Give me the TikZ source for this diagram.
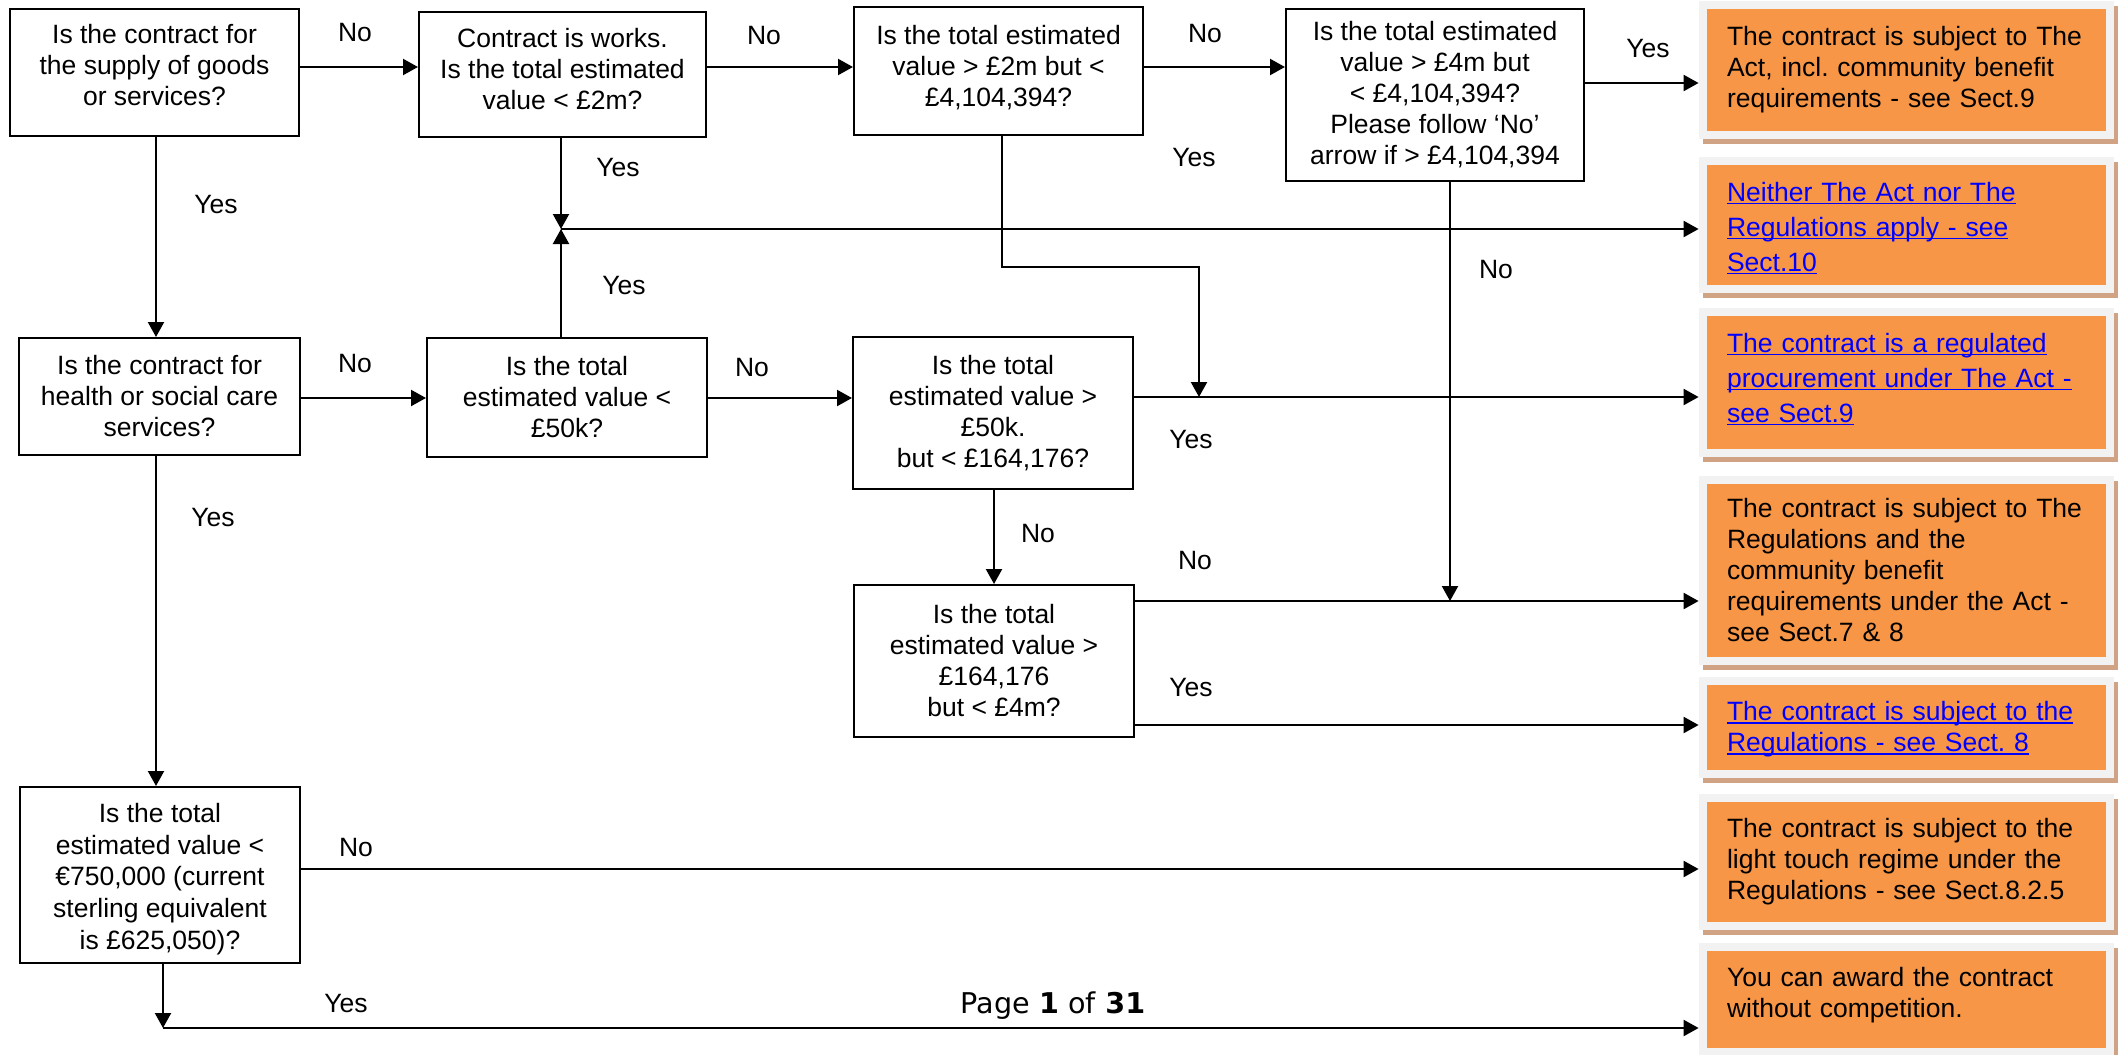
\documentclass[tikz,border=0pt]{standalone}
\usepackage{fontspec}
\setmainfont{Liberation Sans}
\newfontfamily\pagefont{DejaVu Sans}
\usetikzlibrary{arrows.meta,shadows}
\definecolor{boxorange}{HTML}{F79646}
\definecolor{framegray}{HTML}{F2F2F2}
\definecolor{shadowtan}{HTML}{CFA384}
\definecolor{linkblue}{HTML}{0000FF}
\newcommand\mainsz{\fontsize{13.25}{15.5}\selectfont\frenchspacing}
\newcommand\widesz{\fontsize{13.25}{15.8}\selectfont\frenchspacing}
\newcommand\linksz{\fontsize{13.25}{17.5}\selectfont\frenchspacing}
\newsavebox\lnkbox
\newcommand\lnk[1]{\sbox\lnkbox{#1}\leavevmode\rlap{\rule[-1.6pt]{\wd\lnkbox}{0.8pt}}\usebox\lnkbox}
\begin{document}
\begin{tikzpicture}[x=0.5pt,y=-0.5pt,
  qbox/.style={draw=black, line width=1pt, fill=white, inner sep=0pt},
  qt/.style={align=center, font=\mainsz, inner sep=0pt},
  frm/.style={fill=framegray, inner sep=0pt, minimum width=207.5pt,
    general shadow={fill=shadowtan, shadow xshift=2pt, shadow yshift=-2.5pt}},
  res/.style={fill=boxorange, inner sep=0pt, minimum width=199.5pt},
  rt/.style={inner sep=0pt, text width=179.5pt, align=left, font=\mainsz},
  link/.style={text=linkblue, font=\linksz},
  arr/.style={line width=1.1pt, -{Triangle[length=7.5pt,width=8pt]}},
  lbl/.style={font=\mainsz, inner sep=0pt, text height=9.5pt, text depth=0pt}]
\useasboundingbox (0,0) rectangle (2127,1055);
\fill[white] (0,0) rectangle (2127,1055);

% question boxes
\node[qbox, minimum width=144.5pt, minimum height=63.5pt] (A) at (154.5,72.5) {};
\node[qt] (At) at (154.5,65.5) {Is the contract for\\the supply of goods\\or services?};
\node[qbox, minimum width=143.5pt, minimum height=62.5pt] (B) at (562.5,74.5) {};
\node[qt] (Bt) at (562.5,69.5) {Contract is works.\\Is the total estimated\\value < £2m?};
\node[qbox, minimum width=144.5pt, minimum height=64pt] (C) at (998.5,71) {};
\node[qt] (Ct) at (998.5,68) {Is the total estimated\\value > £2m but <\\£4,104,394?};
\node[qbox, minimum width=149pt, minimum height=86pt] (D) at (1435,95) {};
\node[qt] (Dt) at (1435,95) {Is the total estimated\\value > £4m but\\< £4,104,394?\\Please follow ‘No’\\arrow if > £4,104,394};
\node[qbox, minimum width=140.5pt, minimum height=58.5pt] (E) at (159.5,396.5) {};
\node[qt] (Et) at (159.5,396.5) {Is the contract for\\health or social care\\services?};
\node[qbox, minimum width=140pt, minimum height=59.5pt] (F) at (567,397.5) {};
\node[qt] (Ft) at (567,397.5) {Is the total\\estimated value <\\£50k?};
\node[qbox, minimum width=140pt, minimum height=76pt] (G) at (993,413) {};
\node[qt] (Gt) at (993,413) {Is the total\\estimated value >\\£50k.\\but < £164,176?};
\node[qbox, minimum width=140pt, minimum height=76pt] (H) at (994,661) {};
\node[qt] (Ht) at (994,661) {Is the total\\estimated value >\\£164,176\\but < £4m?};
\node[qbox, minimum width=140pt, minimum height=88pt] (I) at (160,875) {};
\node[qt, font=\widesz] (It) at (160,879) {Is the total\\estimated value <\\€750,000 (current\\sterling equivalent\\is £625,050)?};

% result boxes
\node[frm, minimum height=69pt] (Rf1) at (1906.5,70) {};
\node[res, minimum height=61pt] (R1) at (1906.5,70) {};
\node[rt] (R1t) at (1906.5,70) {The contract is subject to The\\Act, incl. community benefit\\requirements - see Sect.9};
\node[frm, minimum height=68pt] (Rf2) at (1906.5,225) {};
\node[res, minimum height=60pt] (R2) at (1906.5,225) {};
\node[rt, link] (R2t) at (1906.5,228) {\lnk{Neither The Act nor The}\\\lnk{Regulations apply - see}\\\lnk{Sect.10}};
\node[frm, minimum height=74.5pt] (Rf3) at (1906.5,382.5) {};
\node[res, minimum height=66.5pt] (R3) at (1906.5,382.5) {};
\node[rt, link] (R3t) at (1906.5,379) {\lnk{The contract is a regulated}\\\lnk{procurement under The Act -}\\\lnk{see Sect.9}};
\node[frm, minimum height=94.5pt] (Rf4) at (1906.5,570.5) {};
\node[res, minimum height=86.5pt] (R4) at (1906.5,570.5) {};
\node[rt] (R4t) at (1906.5,570.5) {The contract is subject to The\\Regulations and the\\community benefit\\requirements under the Act -\\see Sect.7 \& 8};
\node[frm, minimum height=50.5pt] (Rf5) at (1906.5,727.5) {};
\node[res, minimum height=42.5pt] (R5) at (1906.5,727.5) {};
\node[rt, link, font=\mainsz] (R5t) at (1906.5,729.5) {\lnk{The contract is subject to the}\\\lnk{Regulations - see Sect. 8}};
\node[frm, minimum height=68pt] (Rf6) at (1906.5,862) {};
\node[res, minimum height=60pt] (R6) at (1906.5,862) {};
\node[rt] (R6t) at (1906.5,862) {The contract is subject to the\\light touch regime under the\\Regulations - see Sect.8.2.5};
\node[frm, minimum height=56.5pt] (Rf7) at (1906.5,999.5) {};
\node[res, minimum height=48.5pt] (R7) at (1906.5,999.5) {};
\node[rt] (R7t) at (1906.5,995) {You can award the contract\\without competition.};

% helper coordinates
\coordinate (yA) at (0,67);
\coordinate (y1) at (0,83);
\coordinate (m1) at (561,229);
\coordinate (c1) at (1002,267);
\coordinate (c2) at (1199,267);
\coordinate (g1) at (1199,397);
\coordinate (d1) at (1450,601);
\coordinate (y5) at (0,725);
\coordinate (e1) at (156,0);
\coordinate (y2) at (0,398);
\coordinate (y6) at (0,869);
\coordinate (i1) at (163,1028);
\coordinate (gx) at (994,0);

% connectors
\draw[arr] (A.east |- yA) -- (B.west |- yA);
\draw[arr] (B.east |- yA) -- (C.west |- yA);
\draw[arr] (C.east |- yA) -- (D.west |- yA);
\draw[arr] (D.east |- y1) -- (Rf1.west |- y1);
\draw[arr] (m1 |- B.south) -- (m1);
\draw[arr] (m1 |- F.north) -- (m1);
\draw[arr] (m1) -- (Rf2.west |- m1);
\draw[arr] (c1 |- C.south) -- (c1) -- (c2) -- (g1);
\draw[arr] (G.east |- g1) -- (Rf3.west |- g1);
\draw[arr] (d1 |- D.south) -- (d1);
\draw[arr] (H.east |- d1) -- (Rf4.west |- d1);
\draw[arr] (H.east |- y5) -- (Rf5.west |- y5);
\draw[arr] (e1 |- A.south) -- (e1 |- E.north);
\draw[arr] (e1 |- E.south) -- (e1 |- I.north);
\draw[arr] (E.east |- y2) -- (F.west |- y2);
\draw[arr] (F.east |- y2) -- (G.west |- y2);
\draw[arr] (gx |- G.south) -- (gx |- H.north);
\draw[arr] (I.east |- y6) -- (Rf6.west |- y6);
\draw[arr] (i1 |- I.south) -- (i1);
\draw[arr] (i1) -- (Rf7.west |- i1);

% labels
\node[lbl] (l1) at (355,32) {No};
\node[lbl] (l2) at (764,35) {No};
\node[lbl] (l3) at (1205,33) {No};
\node[lbl] (l4) at (1648,48) {Yes};
\node[lbl] (l5) at (216,204) {Yes};
\node[lbl] (l6) at (618,167) {Yes};
\node[lbl] (l7) at (1194,157) {Yes};
\node[lbl] (l8) at (624,285) {Yes};
\node[lbl] (l9) at (1496,269) {No};
\node[lbl] (l10) at (355,363) {No};
\node[lbl] (l11) at (752,367) {No};
\node[lbl] (l12) at (1191,439) {Yes};
\node[lbl] (l13) at (213,517) {Yes};
\node[lbl] (l14) at (1038,533) {No};
\node[lbl] (l15) at (1195,560) {No};
\node[lbl] (l16) at (1191,687) {Yes};
\node[lbl] (l17) at (356,847) {No};
\node[lbl] (l18) at (346,1003) {Yes};
\node[font=\pagefont\fontsize{14.3}{16}\selectfont, inner sep=0pt, anchor=base] (pg) at (1053,1013) {Page \textbf{1} of \textbf{31}};
\end{tikzpicture}
\end{document}
